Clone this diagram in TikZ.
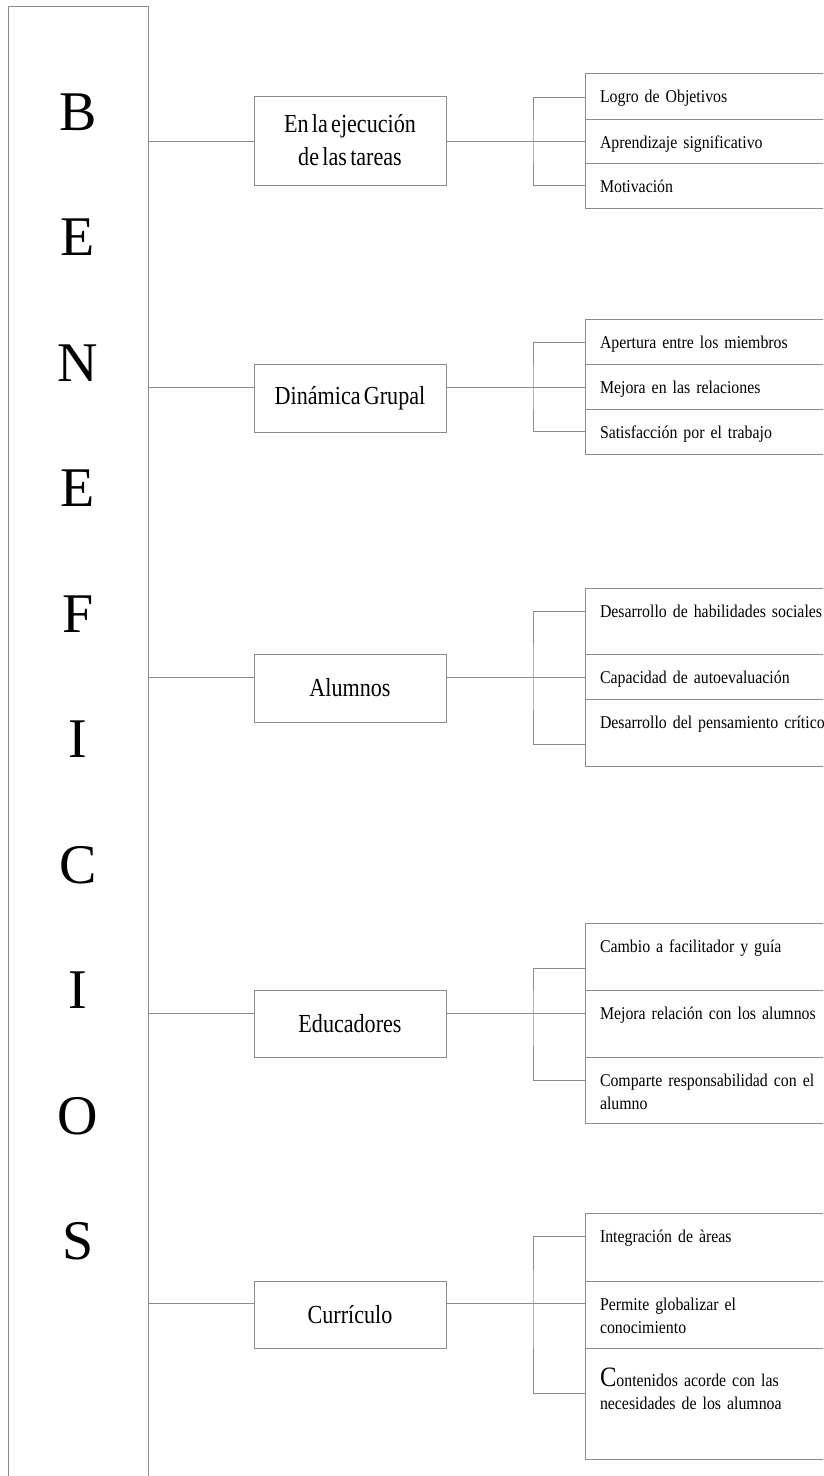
\documentclass[tikz,border=0pt]{standalone}
\usepackage{fontspec}
\setmainfont{Liberation Serif}
\newfontfamily\midfont[FakeStretch=0.85,WordSpace=0.6]{Liberation Serif}
\newfontfamily\cellfont[FakeStretch=0.88,WordSpace=0.6]{Liberation Serif}
\usepackage{tikz}
\usetikzlibrary{positioning}
\definecolor{cline}{gray}{0.55}
\tikzset{
x=1pt, y=-1pt,
Conn/.style={
	draw=cline,
	line width=0.9pt
},
BigBox/.style={
	Conn,
	minimum width=140pt,
	minimum height=1520pt,
	inner sep=0pt, outer sep=0pt
},
Letter/.style={
	font=\fontsize{56}{56}\selectfont,
	inner sep=0pt
},
MidBox/.style={
	Conn,
	anchor=north west,
	minimum width=192pt,
	minimum height=68pt,
	align=center,
	inner sep=0pt, outer sep=0pt,
	font=\midfont\fontsize{26}{33}\selectfont
},
Cell/.style={
	Conn,
	anchor=north west,
	inner xsep=15pt, inner ysep=0pt, outer sep=0pt,
	text width=250pt,
	align=left,
	text height=29pt,
	text depth={#1-29pt},
	font=\cellfont\fontsize{18}{23}\selectfont
}
}

\begin{document}
\begin{tikzpicture}
	\useasboundingbox (0,0) rectangle (823,1476);
	\clip (0,0) rectangle (823,1476);

	% left column
	\node[BigBox, anchor=north west] (benef) at (8,6) {};
	\foreach \l [count=\i from 0] in {B,E,N,E,F,I,C,I,O,S}
		\node[Letter] (let\i) at (78,{112+125.5*\i}) {\l};

	% middle boxes
	\node[MidBox, minimum height=89pt] (ejec) at (254,96) {En la ejecución\\ de las tareas};
	\node[MidBox] (dina) at (254,364) {Dinámica Grupal};
	\node[MidBox] (alum) at (254,654) {Alumnos};
	\node[MidBox, minimum height=67pt] (educ) at (254,990) {Educadores};
	\node[MidBox, minimum height=67pt] (curr) at (254,1281) {Currículo};

	% right lists
	\node[Cell=46pt] (a1) at (585,73) {Logro de Objetivos};
	\node[Cell=44pt, below=0pt of a1.south west, anchor=north west] (b1) {Aprendizaje significativo};
	\node[Cell=45pt, below=0pt of b1.south west, anchor=north west] (c1) {Motivación};

	\node[Cell=45pt] (a2) at (585,319) {Apertura entre los miembros};
	\node[Cell=45pt, below=0pt of a2.south west, anchor=north west] (b2) {Mejora en las relaciones};
	\node[Cell=45pt, below=0pt of b2.south west, anchor=north west] (c2) {Satisfacción por el trabajo};

	\node[Cell=66pt] (a3) at (585,588) {Desarrollo de habilidades sociales};
	\node[Cell=45pt, below=0pt of a3.south west, anchor=north west] (b3) {Capacidad de autoevaluación};
	\node[Cell=67pt, below=0pt of b3.south west, anchor=north west] (c3) {Desarrollo del pensamiento crítico};

	\node[Cell=67pt] (a4) at (585,923) {Cambio a facilitador y guía};
	\node[Cell=67pt, below=0pt of a4.south west, anchor=north west] (b4) {Mejora relación con los alumnos};
	\node[Cell=66pt, below=0pt of b4.south west, anchor=north west] (c4) {Comparte responsabilidad con el\\alumno};

	\node[Cell=68pt] (a5) at (585,1213) {Integración de àreas};
	\node[Cell=67pt, below=0pt of a5.south west, anchor=north west] (b5) {Permite globalizar el\\conocimiento};
	\node[Cell=111pt, text height=38pt, text depth=73pt, below=0pt of b5.south west, anchor=north west] (c5) {{\fontsize{28}{28}\selectfont C}ontenidos acorde con las\\necesidades de los alumnoa};

	% joints
	\coordinate (k1) at (533,141);
	\coordinate (k2) at (533,387);
	\coordinate (k3) at (533,677);
	\coordinate (k4) at (533,1013);
	\coordinate (k5) at (533,1303);

	\draw[Conn] (benef.east |- k1) -- (ejec.west |- k1);
	\draw[Conn] (ejec.east |- k1) -- (b1.west |- k1);
	\draw[Conn] ([yshift=-24pt]a1.north west) -| (k1) |- ([yshift=-22pt]c1.north west);

	\draw[Conn] (benef.east |- k2) -- (dina.west |- k2);
	\draw[Conn] (dina.east |- k2) -- (b2.west |- k2);
	\draw[Conn] ([yshift=-23pt]a2.north west) -| (k2) |- ([yshift=-22pt]c2.north west);

	\draw[Conn] (benef.east |- k3) -- (alum.west |- k3);
	\draw[Conn] (alum.east |- k3) -- (b3.west |- k3);
	\draw[Conn] ([yshift=-23pt]a3.north west) -| (k3) |- ([yshift=-45pt]c3.north west);

	\draw[Conn] (benef.east |- k4) -- (educ.west |- k4);
	\draw[Conn] (educ.east |- k4) -- (b4.west |- k4);
	\draw[Conn] ([yshift=-45pt]a4.north west) -| (k4) |- ([yshift=-23pt]c4.north west);

	\draw[Conn] (benef.east |- k5) -- (curr.west |- k5);
	\draw[Conn] (curr.east |- k5) -- (b5.west |- k5);
	\draw[Conn] ([yshift=-23pt]a5.north west) -| (k5) |- ([yshift=-45pt]c5.north west);
\end{tikzpicture}
\end{document}
